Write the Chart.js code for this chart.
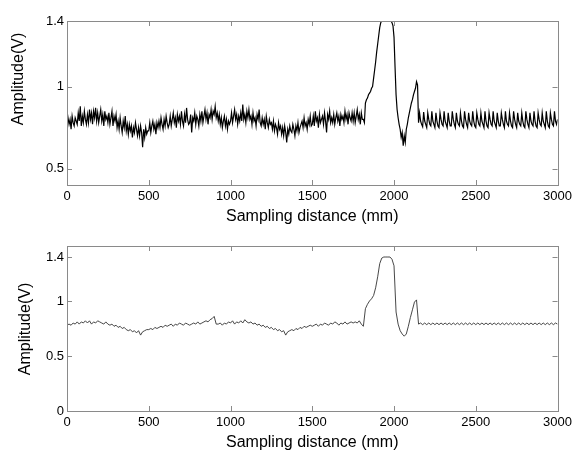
<!DOCTYPE html>
<html lang="en">
<head>
    <meta charset="UTF-8">
    <title>Sampling distance signals</title>
    <style>
        body {
            margin: 0;
            background: #fff;
        }
        .panel {
            position: absolute;
            left: 0;
            width: 576px;
            height: 226px;
        }
    </style>
    <script src="https://cdn.jsdelivr.net/npm/chart.js"></script>
</head>
<body>
    <div class="panel" style="top:0"><canvas id="rawChart" width="576" height="226"></canvas></div>
    <div class="panel" style="top:226px"><canvas id="smoothChart" width="576" height="226"></canvas></div>

    <script>
        // sampling steps along the distance axis (mm)
        const RAW_STEP = 6.25;
        const SMOOTH_STEP = 12.5;

        const xTicks = [0, 500, 1000, 1500, 2000, 2500, 3000];
        const rawYTicks = [0.5, 1, 1.4];
        const smoothYTicks = [0, 0.5, 1, 1.4];

        // top panel: raw signal, one row = 62.5 mm
        const rawSignal = [
            0.76, 0.81, 0.77, 0.80, 0.74, 0.82, 0.78, 0.76, 0.81, 0.79,
            0.77, 0.84, 0.79, 0.88, 0.76, 0.82, 0.78, 0.85, 0.80, 0.77,
            0.83, 0.78, 0.86, 0.80, 0.84, 0.77, 0.85, 0.81, 0.87, 0.79,
            0.84, 0.78, 0.82, 0.86, 0.79, 0.83, 0.76, 0.85, 0.80, 0.82,
            0.78, 0.84, 0.77, 0.81, 0.85, 0.76, 0.82, 0.79, 0.83, 0.75,
            0.79, 0.74, 0.81, 0.76, 0.72, 0.79, 0.75, 0.82, 0.73, 0.77,
            0.71, 0.77, 0.73, 0.76, 0.69, 0.75, 0.72, 0.78, 0.74, 0.70,
            0.75, 0.70, 0.76, 0.72, 0.63, 0.74, 0.69, 0.75, 0.71, 0.73,
            0.73, 0.78, 0.72, 0.76, 0.79, 0.74, 0.77, 0.71, 0.78, 0.75,
            0.79, 0.75, 0.81, 0.77, 0.74, 0.80, 0.76, 0.82, 0.78, 0.75,
            0.77, 0.82, 0.76, 0.80, 0.84, 0.78, 0.81, 0.75, 0.83, 0.79,
            0.82, 0.77, 0.85, 0.79, 0.76, 0.83, 0.78, 0.87, 0.80, 0.77,
            0.78, 0.83, 0.72, 0.81, 0.79, 0.84, 0.77, 0.82, 0.80, 0.76,
            0.83, 0.79, 0.85, 0.78, 0.82, 0.86, 0.80, 0.84, 0.77, 0.83,
            0.81, 0.86, 0.80, 0.85, 0.83, 0.88, 0.81, 0.84, 0.79, 0.83,
            0.77, 0.81, 0.75, 0.79, 0.82, 0.76, 0.80, 0.74, 0.79, 0.77,
            0.79, 0.84, 0.78, 0.82, 0.86, 0.80, 0.83, 0.77, 0.82, 0.79,
            0.84, 0.79, 0.89, 0.80, 0.83, 0.78, 0.85, 0.81, 0.86, 0.80,
            0.82, 0.77, 0.84, 0.79, 0.81, 0.76, 0.83, 0.80, 0.86, 0.78,
            0.76, 0.81, 0.77, 0.80, 0.74, 0.82, 0.78, 0.75, 0.80, 0.77,
            0.78, 0.74, 0.79, 0.73, 0.77, 0.75, 0.71, 0.78, 0.74, 0.76,
            0.71, 0.75, 0.70, 0.76, 0.72, 0.66, 0.74, 0.71, 0.76, 0.73,
            0.72, 0.77, 0.74, 0.70, 0.76, 0.73, 0.78, 0.72, 0.75, 0.77,
            0.79, 0.75, 0.81, 0.76, 0.78, 0.74, 0.80, 0.77, 0.82, 0.76,
            0.77, 0.82, 0.76, 0.85, 0.79, 0.81, 0.75, 0.83, 0.78, 0.80,
            0.82, 0.77, 0.84, 0.79, 0.72, 0.83, 0.80, 0.85, 0.78, 0.81,
            0.78, 0.83, 0.77, 0.81, 0.84, 0.79, 0.82, 0.76, 0.83, 0.80,
            0.82, 0.78, 0.85, 0.80, 0.83, 0.77, 0.84, 0.81, 0.79, 0.84,
            0.79, 0.84, 0.78, 0.82, 0.86, 0.80, 0.83, 0.77, 0.84, 0.80,
            0.80, 0.78, 0.90, 0.92, 0.93, 0.95, 0.96, 0.97, 0.99, 1.00,
            1.05, 1.10, 1.15, 1.21, 1.26, 1.31, 1.36, 1.39, 1.40, 1.40,
            1.40, 1.40, 1.40, 1.40, 1.40, 1.40, 1.40, 1.40, 1.39, 1.37,
            1.30, 1.12, 0.95, 0.86, 0.81, 0.77, 0.74, 0.69, 0.72, 0.64,
            0.70, 0.66, 0.74, 0.77, 0.81, 0.84, 0.87, 0.90, 0.92, 0.95,
            0.97, 0.99, 1.03, 1.01, 0.78, 0.84, 0.79, 0.77, 0.755, 0.845,
            0.79, 0.77, 0.75, 0.84, 0.80, 0.77, 0.76, 0.85, 0.79, 0.77,
            0.75, 0.84, 0.79, 0.76, 0.75, 0.84, 0.80, 0.77, 0.76, 0.85,
            0.79, 0.77, 0.75, 0.84, 0.79, 0.76, 0.76, 0.85, 0.80, 0.77,
            0.75, 0.84, 0.79, 0.77, 0.76, 0.84, 0.79, 0.76, 0.75, 0.85,
            0.80, 0.77, 0.75, 0.84, 0.79, 0.77, 0.76, 0.85, 0.79, 0.76,
            0.75, 0.84, 0.80, 0.77, 0.76, 0.84, 0.79, 0.77, 0.75, 0.85,
            0.79, 0.76, 0.75, 0.84, 0.80, 0.77, 0.76, 0.85, 0.79, 0.77,
            0.75, 0.84, 0.79, 0.76, 0.76, 0.84, 0.80, 0.77, 0.75, 0.85,
            0.79, 0.77, 0.76, 0.84, 0.79, 0.76, 0.75, 0.85, 0.80, 0.77,
            0.75, 0.84, 0.79, 0.77, 0.76, 0.84, 0.79, 0.76, 0.75, 0.85,
            0.80, 0.77, 0.75, 0.84, 0.79, 0.77, 0.76, 0.85, 0.79, 0.76,
            0.75, 0.84, 0.80, 0.77, 0.76, 0.84, 0.79, 0.77, 0.75, 0.85,
            0.79, 0.76, 0.75, 0.84, 0.80, 0.77, 0.76, 0.85, 0.79, 0.77,
            0.80
        ];

        // bottom panel: filtered signal, one row = 125 mm
        const smoothSignal = [
            0.78, 0.79, 0.78, 0.80, 0.79, 0.81, 0.79, 0.81, 0.80, 0.82,
            0.80, 0.82, 0.79, 0.81, 0.80, 0.82, 0.81, 0.80, 0.79, 0.81,
            0.79, 0.78, 0.79, 0.77, 0.78, 0.76, 0.77, 0.75, 0.76, 0.74,
            0.73, 0.74, 0.72, 0.73, 0.71, 0.73, 0.69, 0.72, 0.73, 0.74,
            0.74, 0.75, 0.74, 0.76, 0.75, 0.76, 0.77, 0.76, 0.78, 0.77,
            0.78, 0.79, 0.77, 0.79, 0.78, 0.80, 0.79, 0.78, 0.80, 0.79,
            0.78, 0.79, 0.80, 0.79, 0.81, 0.79, 0.80, 0.81, 0.82, 0.81,
            0.83, 0.84, 0.86, 0.79, 0.79, 0.80, 0.78, 0.80, 0.79, 0.81,
            0.80, 0.82, 0.79, 0.81, 0.80, 0.82, 0.80, 0.83, 0.81, 0.80,
            0.81, 0.79, 0.80, 0.78, 0.79, 0.77, 0.78, 0.76, 0.77, 0.75,
            0.76, 0.74, 0.75, 0.73, 0.74, 0.72, 0.73, 0.69, 0.72, 0.73,
            0.74, 0.73, 0.75, 0.74, 0.76, 0.75, 0.77, 0.76, 0.77, 0.78,
            0.77, 0.78, 0.79, 0.77, 0.79, 0.78, 0.80, 0.79, 0.78, 0.80,
            0.79, 0.81, 0.80, 0.78, 0.80, 0.79, 0.81, 0.79, 0.80, 0.81,
            0.80, 0.81, 0.80, 0.82, 0.79, 0.77, 0.93, 0.97, 1.00, 1.02,
            1.05, 1.12, 1.22, 1.34, 1.39, 1.40, 1.40, 1.40, 1.40, 1.38,
            1.32, 0.90, 0.79, 0.73, 0.70, 0.68, 0.70, 0.77, 0.85, 0.92,
            0.99, 1.01, 0.79, 0.80, 0.785, 0.80, 0.785, 0.80, 0.785, 0.80,
            0.785, 0.80, 0.785, 0.80, 0.785, 0.80, 0.785, 0.80, 0.785, 0.80,
            0.785, 0.80, 0.785, 0.80, 0.785, 0.80, 0.785, 0.80, 0.785, 0.80,
            0.785, 0.80, 0.785, 0.80, 0.785, 0.80, 0.785, 0.80, 0.785, 0.80,
            0.785, 0.80, 0.785, 0.80, 0.785, 0.80, 0.785, 0.80, 0.785, 0.80,
            0.785, 0.80, 0.785, 0.80, 0.785, 0.80, 0.785, 0.80, 0.785, 0.80,
            0.785, 0.80, 0.785, 0.80, 0.785, 0.80, 0.785, 0.80, 0.785, 0.80,
            0.79
        ];

        const FONT = 'Arial, "Liberation Sans", sans-serif';
        const AXIS_GREY = '#8a8a8a';

        // matlab style box with inward ticks + rotated y label
        const boxPlugin = {
            id: 'boxPlugin',
            afterDraw(chart, args, opts) {
                const ctx = chart.ctx;
                const a = chart.chartArea;
                const xs = chart.scales.x;
                const ys = chart.scales.y;
                const len = 5;
                ctx.save();
                ctx.strokeStyle = AXIS_GREY;
                ctx.lineWidth = 1;
                ctx.strokeRect(Math.round(a.left) + 0.5, Math.round(a.top) + 0.5,
                    Math.round(a.right - a.left), Math.round(a.bottom - a.top));
                ctx.beginPath();
                xs.ticks.forEach(t => {
                    const px = Math.round(xs.getPixelForValue(t.value)) + 0.5;
                    ctx.moveTo(px, a.bottom);
                    ctx.lineTo(px, a.bottom - len);
                    ctx.moveTo(px, a.top);
                    ctx.lineTo(px, a.top + len);
                });
                ys.ticks.forEach(t => {
                    const py = Math.round(ys.getPixelForValue(t.value)) + 0.5;
                    ctx.moveTo(a.left, py);
                    ctx.lineTo(a.left + len, py);
                    ctx.moveTo(a.right, py);
                    ctx.lineTo(a.right - len, py);
                });
                ctx.stroke();

                ctx.fillStyle = '#000';
                ctx.font = '16px ' + FONT;
                ctx.textAlign = 'center';
                ctx.textBaseline = 'middle';
                ctx.translate(opts.x, opts.y);
                ctx.rotate(-Math.PI / 2);
                ctx.fillText(opts.text, 0, 0);
                ctx.restore();
            }
        };

        function makeChart(id, values, step, yMin, yMax, yTicks, lineColor, lineWidth, padTop, labelPos) {
            return new Chart(document.getElementById(id), {
                type: 'line',
                data: {
                    datasets: [{
                        data: values.map((v, i) => ({ x: i * step, y: v })),
                        borderColor: lineColor,
                        borderWidth: lineWidth,
                        pointRadius: 0,
                        tension: 0,
                        fill: false
                    }]
                },
                options: {
                    responsive: false,
                    animation: false,
                    layout: { padding: { top: padTop, right: 16, left: 0, bottom: 0 } },
                    plugins: {
                        legend: { display: false },
                        tooltip: { enabled: false },
                        boxPlugin: { text: 'Amplitude(V)', x: labelPos[0], y: labelPos[1] }
                    },
                    scales: {
                        x: {
                            type: 'linear',
                            min: 0,
                            max: 3000,
                            grid: { display: false, drawTicks: false },
                            border: { display: false },
                            afterBuildTicks: s => { s.ticks = xTicks.map(v => ({ value: v })); },
                            afterFit: s => { s.height = 41; },
                            ticks: {
                                color: '#000',
                                padding: 4,
                                maxRotation: 0,
                                font: { family: FONT, size: 13 },
                                callback: v => String(v)
                            },
                            title: {
                                display: true,
                                text: 'Sampling distance (mm)',
                                color: '#000',
                                padding: { top: 0, bottom: 0 },
                                font: { family: FONT, size: 16 }
                            }
                        },
                        y: {
                            min: yMin,
                            max: yMax,
                            grid: { display: false, drawTicks: false },
                            border: { display: false },
                            afterBuildTicks: s => { s.ticks = yTicks.map(v => ({ value: v })); },
                            afterFit: s => { s.width = 67; },
                            ticks: {
                                color: '#000',
                                padding: 3,
                                font: { family: FONT, size: 13 },
                                callback: v => String(v)
                            }
                        }
                    }
                },
                plugins: [boxPlugin]
            });
        }

        makeChart('rawChart', rawSignal, RAW_STEP, 0.4, 1.4, rawYTicks, '#000', 1.2, 21, [19, 79]);
        makeChart('smoothChart', smoothSignal, SMOOTH_STEP, 0, 1.5, smoothYTicks, '#333', 0.9, 20, [26, 103]);
    </script>
</body>
</html>
